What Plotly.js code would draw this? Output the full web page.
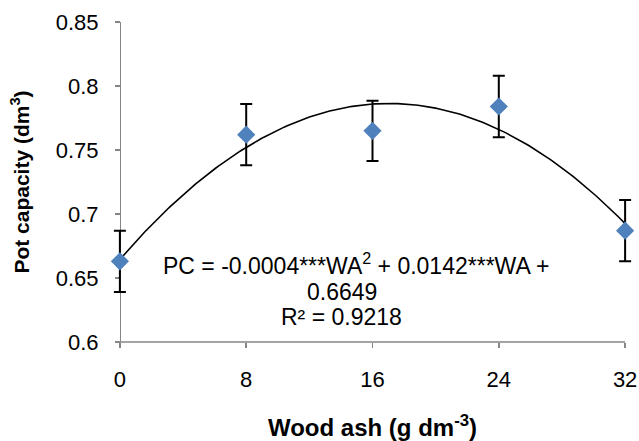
<!DOCTYPE html>
<html>
<head>
<meta charset="utf-8">
<script src="https://cdn.plot.ly/plotly-3.0.1.min.js"></script>
<style>
  html, body { margin: 0; padding: 0; background: #fff; }
  #chart { width: 639px; height: 441px; }
</style>
</head>
<body>
<div id="chart"></div>
<script>
// Wood ash rate (g dm-3) and measured pot capacity (dm3), with error bar half-widths
const woodAsh = [0, 8, 16, 24, 32];
const potCapacity = [0.663, 0.762, 0.765, 0.784, 0.687];
const errorHalf = [0.024, 0.024, 0.0235, 0.024, 0.024];
const xTicks = [0, 8, 16, 24, 32];
const yTicks = [0.6, 0.65, 0.7, 0.75, 0.8, 0.85];
const yTickText = ['0.6', '0.65', '0.7', '0.75', '0.8', '0.85'];
const equationLines = [
  'PC = -0.0004***WA<sup>2</sup> + 0.0142***WA +',
  '0.6649',
  'R² = 0.9218'
];

// Second-order least-squares trendline through the measured points
function quadFit(xs, ys) {
  const n = xs.length;
  const s = [0, 0, 0, 0, 0], t = [0, 0, 0];
  for (let i = 0; i < n; i++) {
    let p = 1;
    for (let k = 0; k < 5; k++) { s[k] += p; if (k < 3) t[k] += p * ys[i]; p *= xs[i]; }
  }
  // Solve the 3x3 normal equations with Cramer's rule
  const M = [[s[0], s[1], s[2]], [s[1], s[2], s[3]], [s[2], s[3], s[4]]];
  const det = m => m[0][0]*(m[1][1]*m[2][2]-m[1][2]*m[2][1]) - m[0][1]*(m[1][0]*m[2][2]-m[1][2]*m[2][0]) + m[0][2]*(m[1][0]*m[2][1]-m[1][1]*m[2][0]);
  const D = det(M);
  return [0, 1, 2].map(c => det(M.map((row, r) => row.map((v, j) => j === c ? t[r] : v))) / D);
}
const coef = quadFit(woodAsh, potCapacity);
const xMin = xTicks[0], xMax = xTicks[xTicks.length - 1];
const curveX = [], curveY = [];
for (let i = 0; i <= 200; i++) {
  const x = xMin + (xMax - xMin) * i / 200;
  curveX.push(x);
  curveY.push(coef[0] + coef[1] * x + coef[2] * x * x);
}

// A little room either side so the end error-bar caps are not cut off;
// the y axis is then pinned at x = 0 and the bottom axis line drawn from 0 to 32.
const pad = 0.5;
const xRange = [xMin - pad, xMax + pad];
const yAxisPos = (xMin - xRange[0]) / (xRange[1] - xRange[0]);

const font = 'Liberation Sans, Arial, sans-serif';
const axisGrey = '#868686';

const traces = [
  {
    x: curveX, y: curveY, type: 'scatter', mode: 'lines',
    line: { color: '#000', width: 1.6 },
    hoverinfo: 'skip'
  },
  {
    x: woodAsh, y: potCapacity, type: 'scatter', mode: 'markers',
    marker: { symbol: 'diamond', size: 14, color: '#4F81BD' },
    error_y: { type: 'data', array: errorHalf, visible: true, color: '#000', thickness: 2, width: 6 },
    cliponaxis: false
  }
];

// Equation block: one annotation per line, in paper coordinates
const eqPos = [
  { x: 0.468, y: 0.244 },
  { x: 0.441, y: 0.156 },
  { x: 0.441, y: 0.078 }
];
const eqAnnotations = equationLines.map((txt, i) => ({
  xref: 'paper', yref: 'paper', x: eqPos[i].x, y: eqPos[i].y,
  xanchor: 'center', yanchor: 'middle', align: 'center',
  text: txt, showarrow: false,
  font: { family: font, size: 23, color: '#000' }
}));

const layout = {
  width: 639, height: 441,
  margin: { l: 112, r: 6, t: 22, b: 99 },
  paper_bgcolor: '#fff', plot_bgcolor: '#fff',
  showlegend: false,
  font: { family: font, size: 22, color: '#000' },
  xaxis: {
    range: xRange, tickvals: xTicks, ticktext: xTicks.map(String),
    showgrid: false, zeroline: false, showline: false,
    ticks: 'outside', ticklen: 5, tickcolor: axisGrey, tickwidth: 1.5,
    ticklabelstandoff: 13, layer: 'below traces',
    tickfont: { family: font, size: 22, color: '#000' },
    title: { text: '<b>Wood ash (g dm<sup>-3</sup>)</b>', font: { family: font, size: 24, color: '#000' }, standoff: 27 }
  },
  yaxis: {
    range: [yTicks[0], yTicks[yTicks.length - 1]], tickvals: yTicks, ticktext: yTickText,
    anchor: 'free', position: yAxisPos,
    showgrid: false, zeroline: false,
    showline: true, linecolor: axisGrey, linewidth: 1.5,
    ticks: 'outside', ticklen: 5, tickcolor: axisGrey, tickwidth: 1.5,
    ticklabelstandoff: 12, layer: 'below traces',
    tickfont: { family: font, size: 22, color: '#000' },
    title: { text: '<b>Pot capacity (dm<sup>3</sup>)</b>', font: { family: font, size: 21, color: '#000' }, standoff: 19 }
  },
  shapes: [{
    type: 'line', xref: 'x', yref: 'paper', layer: 'below',
    x0: xMin, x1: xMax, y0: 0, y1: 0,
    line: { color: axisGrey, width: 1.5 }
  }],
  annotations: eqAnnotations
};

Plotly.newPlot('chart', traces, layout, { displayModeBar: false, staticPlot: true });
</script>
</body>
</html>
